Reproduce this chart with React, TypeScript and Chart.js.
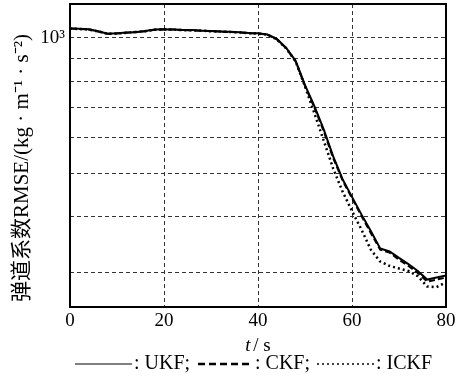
import React, { useEffect, useRef } from "react";
import { Chart, registerables } from "chart.js";
Chart.register(...registerables);

const times = [0, 2, 4, 6, 8, 10, 12, 14, 16, 18, 20, 22, 24, 26, 28, 30, 32, 34, 36, 38, 40, 42, 44, 46, 48, 50, 52, 54, 56, 58, 60, 62, 64, 66, 68, 70, 72, 74, 76, 78, 80];
const ukf = [1050, 1048, 1045, 1035, 1022, 1024, 1028, 1030, 1036, 1044, 1046, 1044, 1042, 1041, 1038, 1036, 1034, 1032, 1030, 1026, 1024, 1018, 995, 950, 890, 785, 705, 625, 545, 485, 443, 405, 372, 340, 335, 324, 314, 303, 290, 293, 296];
const ckf = [1049, 1047, 1044, 1034, 1022, 1023, 1027, 1031, 1035, 1043, 1045, 1044, 1041, 1040, 1038, 1035, 1033, 1031, 1029, 1025, 1023, 1017, 993, 948, 887, 782, 700, 620, 540, 482, 440, 402, 368, 338, 333, 321, 311, 300, 287, 290, 293];
const ickf = [1049, 1047, 1044, 1034, 1022, 1023, 1027, 1031, 1035, 1043, 1045, 1044, 1041, 1040, 1038, 1035, 1033, 1031, 1029, 1025, 1023, 1017, 993, 948, 887, 780, 680, 590, 512, 455, 412, 375, 338, 318, 311, 307, 303, 295, 280, 279, 286];
const xTicks = [0, 20, 40, 60, 80];
const yGrid = [300, 400, 500, 600, 700, 800, 900, 1000];
const yLabels: Record<number, string> = { 1000: "10³" };
const seriesNames = ["UKF", "CKF", "ICKF"];
const yTitle = "弹道系数RMSE/(kg · m⁻¹ · s⁻²)";
const xTitleVar = "t";
const xTitleUnit = "/ s";

const FONT = '"Liberation Serif", "Times New Roman", "Noto Sans CJK SC", serif';

export default function App() {
  const ref = useRef<HTMLCanvasElement>(null);
  useEffect(() => {
    document.body.style.margin = "0";
    const toPts = (arr: number[]) => times.map((t, i) => ({ x: t, y: arr[i] }));
    const decor = {
      id: "decor",
      afterDatasetsDraw(chart: any) {
        const { ctx, chartArea: a } = chart;
        ctx.save();
        ctx.strokeStyle = "#000";
        ctx.lineWidth = 2;
        ctx.setLineDash([]);
        ctx.strokeRect(a.left, a.top, a.right - a.left, a.bottom - a.top);
        ctx.fillStyle = "#000";
        // y title
        ctx.save();
        ctx.translate(22, 168);
        ctx.rotate(-Math.PI / 2);
        ctx.font = `21px ${FONT}`;
        ctx.textAlign = "center";
        ctx.textBaseline = "middle";
        ctx.fillText(yTitle, 0, 0);
        ctx.restore();
        // x title
        ctx.textBaseline = "middle";
        ctx.textAlign = "left";
        ctx.font = `italic 19px ${FONT}`;
        const w1 = ctx.measureText(xTitleVar + " ").width;
        ctx.font = `19px ${FONT}`;
        const w2 = ctx.measureText(xTitleUnit).width;
        const sx = 259 - (w1 + w2) / 2;
        ctx.font = `italic 19px ${FONT}`;
        ctx.fillText(xTitleVar, sx, 346);
        ctx.font = `19px ${FONT}`;
        ctx.fillText(xTitleUnit, sx + w1 - 2, 346);
        // legend
        const ly = 364;
        ctx.font = `20px ${FONT}`;
        const items = [
          { x0: 75, x1: 132, tx: 134, text: `: ${seriesNames[0]};`, dash: [], lw: 1 },
          { x0: 198, x1: 253, tx: 255, text: `: ${seriesNames[1]};`, dash: [7, 4], lw: 2.5 },
          { x0: 317, x1: 376, tx: 376, text: `: ${seriesNames[2]}`, dash: [2, 3], lw: 1.5 },
        ];
        for (const it of items) {
          ctx.beginPath();
          ctx.setLineDash(it.dash);
          ctx.lineWidth = it.lw;
          ctx.moveTo(it.x0, ly);
          ctx.lineTo(it.x1, ly);
          ctx.stroke();
          ctx.setLineDash([]);
          ctx.fillText(it.text, it.tx, ly);
        }
        ctx.restore();
      },
    };
    const chart = new Chart(ref.current!, {
      type: "line",
      data: {
        datasets: [
          { label: seriesNames[0], data: toPts(ukf), borderColor: "#000", borderWidth: 2, pointRadius: 0, tension: 0 },
          { label: seriesNames[1], data: toPts(ckf), borderColor: "#000", borderWidth: 2, borderDash: [6, 3], pointRadius: 0, tension: 0 },
          { label: seriesNames[2], data: toPts(ickf), borderColor: "#000", borderWidth: 2.5, borderDash: [2, 3], pointRadius: 0, tension: 0 },
        ],
      },
      options: {
        animation: false,
        responsive: false,
        devicePixelRatio: 1,
        layout: { padding: { top: 4, right: 21, left: 0, bottom: 0 } },
        plugins: { legend: { display: false }, tooltip: { enabled: false } },
        scales: {
          x: {
            type: "linear",
            min: 0,
            max: 80,
            afterBuildTicks: (s: any) => { s.ticks = xTicks.map((v) => ({ value: v })); },
            afterFit: (s: any) => { s.height = 78; s.paddingLeft = 0; s.paddingRight = 0; },
            ticks: { color: "#000", font: { family: FONT, size: 19 }, padding: 3, maxRotation: 0 },
            grid: { color: "#333", lineWidth: 1, drawTicks: false },
            border: { display: false, dash: [4, 3] },
          },
          y: {
            type: "logarithmic",
            min: 252,
            max: 1190,
            afterBuildTicks: (s: any) => { s.ticks = yGrid.map((v) => ({ value: v })); },
            afterFit: (s: any) => { s.width = 70; s.paddingTop = 0; s.paddingBottom = 0; },
            ticks: {
              color: "#000",
              font: { family: FONT, size: 19 },
              padding: 5,
              autoSkip: false,
              callback: (v: any) => yLabels[Number(v)] ?? "",
            },
            grid: { color: "#333", lineWidth: 1, drawTicks: false },
            border: { display: false, dash: [4, 3] },
          },
        },
      },
      plugins: [decor],
    } as any);
    return () => chart.destroy();
  }, []);
  return <canvas ref={ref} width={467} height={385} />;
}
